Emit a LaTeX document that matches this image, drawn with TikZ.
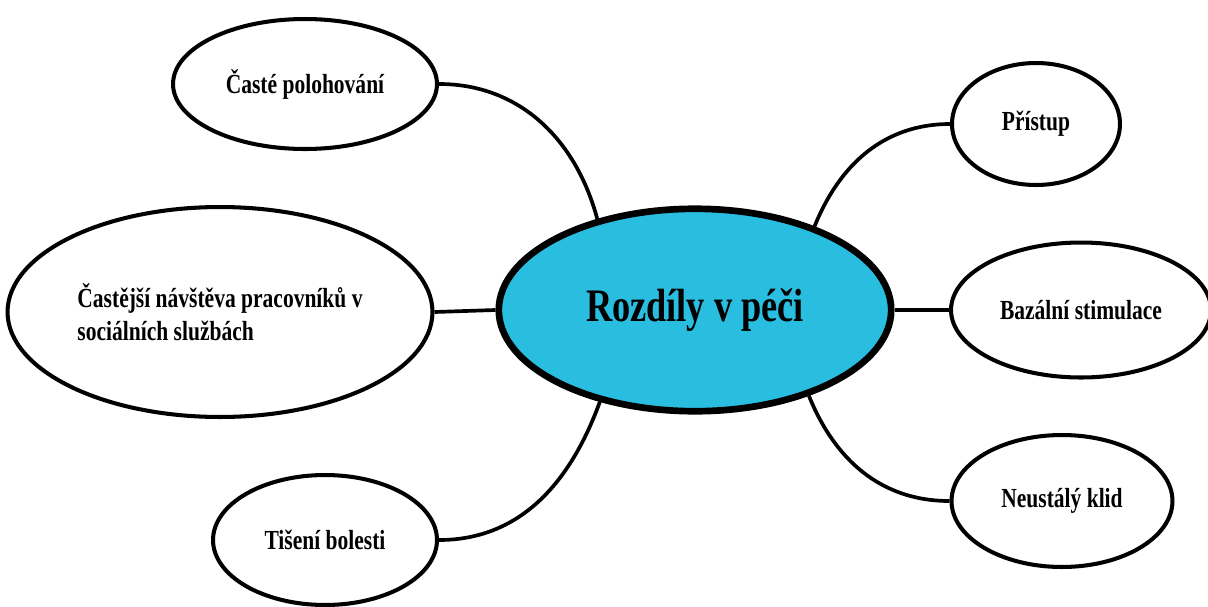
\documentclass[tikz,border=0pt]{standalone}
\usepackage{fontspec}
\setmainfont{Liberation Serif}
\newfontfamily\uzkyfont[FakeStretch=0.78]{Liberation Serif}
\usepackage{tikz}
\usetikzlibrary{shapes.geometric,positioning}
\definecolor{stredmodra}{RGB}{41,189,224}
\tikzset{
    %Define style for the central ellipse
    stred/.style={
           ellipse,
           draw=black, line width=3.8pt,
           fill=stredmodra,
           inner sep=0pt,
           minimum width=7.85cm,
           minimum height=4.05cm,
           font=\uzkyfont\bfseries\fontsize{26.5}{30}\selectfont,
           text centered},
    %Define style for the outer ellipses
    vetev/.style={
           ellipse,
           draw=black, line width=2.3pt,
           fill=white,
           inner sep=0pt,
           font=\uzkyfont\bfseries\fontsize{15.7}{19}\selectfont,
           text centered},
    % Define connector style
    spoj/.style={
           draw=black,
           line width=2.1pt}
}
\begin{document}
\begin{tikzpicture}[x=0.02cm,y=-0.02cm]
\useasboundingbox (0,0) rectangle (1208,606);

 %nodes
\node[stred](rozdily) at (695,310){Rozdíly v péči};
\node[vetev, minimum width=5.28cm, minimum height=2.6cm](polohovani) at (305,84){Časté polohování};
\node[vetev, minimum width=8.5cm, minimum height=4.2cm, align=left](navsteva) at (220,312){Častější návštěva pracovníků v\\sociálních službách};
\node[vetev, minimum width=4.48cm, minimum height=2.6cm](bolest) at (325,540){Tišení bolesti};
\node[vetev, minimum width=3.36cm, minimum height=2.44cm](pristup) at (1036,124){Přístup};
\node[vetev, minimum width=5.2cm, minimum height=2.7cm](bazalni) at (1081,310){Bazální stimulace};
\node[vetev, minimum width=4.42cm, minimum height=2.64cm](klid) at (1062,501){Neustálý klid};

 \path[every edge/.style={spoj}]
    (polohovani.east) edge[out=0, in=105] (rozdily.137)
    (navsteva.east) edge (rozdily.west)
    (bolest.east) edge[out=0, in=250] (rozdily.224)
    (pristup.west) edge[out=180, in=68] (rozdily.35)
    (rozdily.east) edge (bazalni.west)
    (klid.west) edge[out=180, in=292] (rozdily.323);

\end{tikzpicture}
\end{document}
